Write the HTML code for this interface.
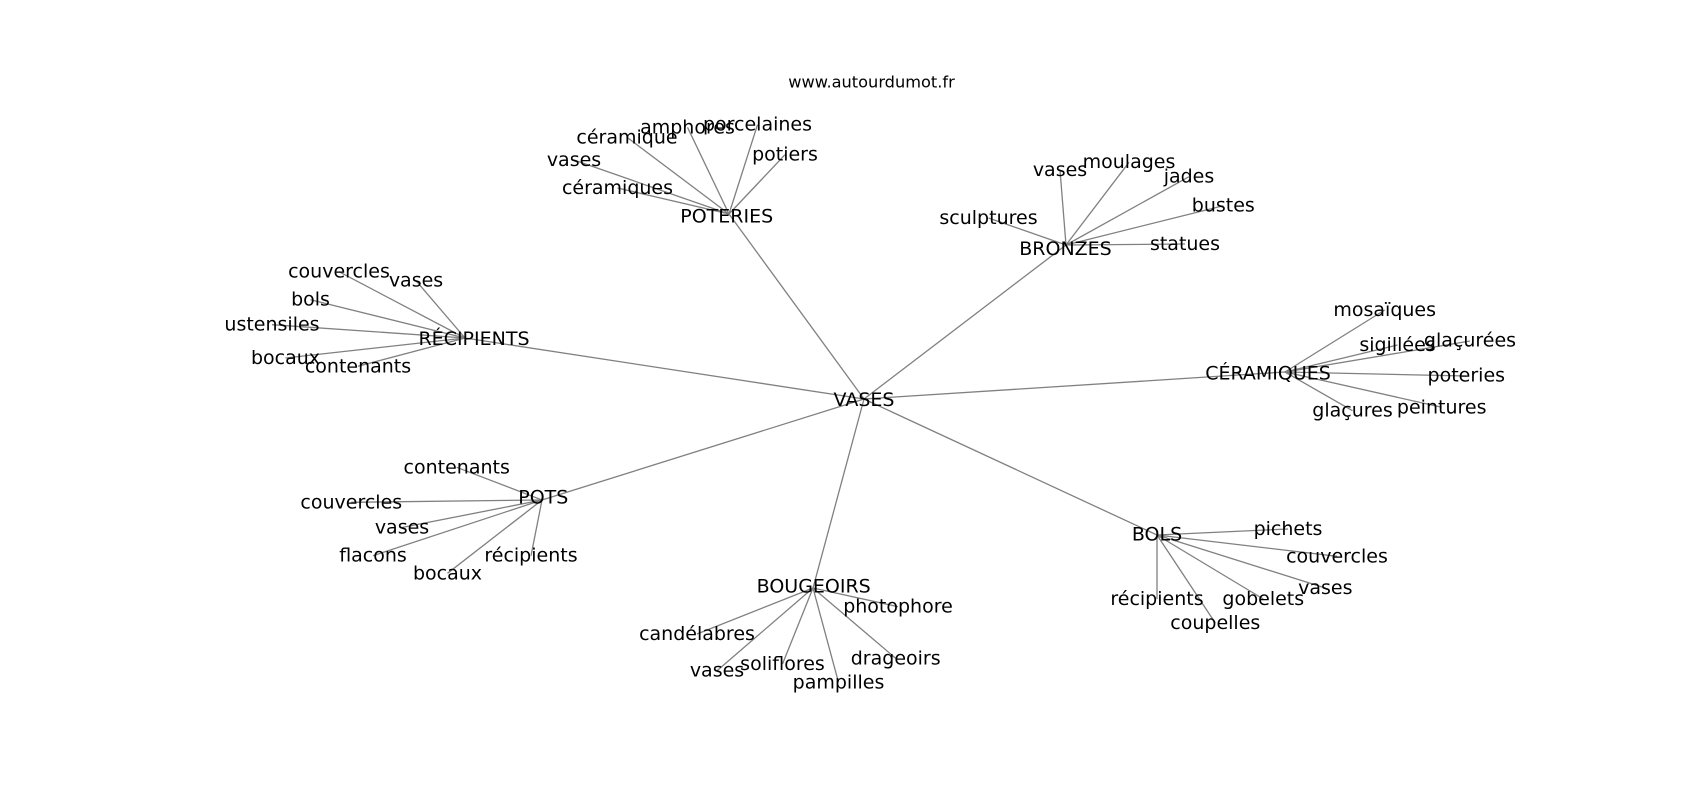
<!DOCTYPE html>
<html>
<head>
<meta charset="utf-8">
<style>
  html,body{margin:0;padding:0;background:#fff;}
  svg{display:block;}
  text{font-family:"DejaVu Sans","Liberation Sans",sans-serif;fill:#000;}
  .n{font-size:19px;text-anchor:middle;}
  .t{font-size:16.2px;text-anchor:middle;}
  line{stroke:#808080;stroke-width:1.3;}
</style>
</head>
<body>
<svg width="1700" height="800" viewBox="0 0 1700 800" xmlns="http://www.w3.org/2000/svg">
<rect width="1700" height="800" fill="#fff"/>
<g>
<!-- VASES to hubs -->
<line x1="864" y1="399" x2="729" y2="214"/>
<line x1="864" y1="399" x2="1066" y2="245"/>
<line x1="864" y1="399" x2="465" y2="338"/>
<line x1="864" y1="399" x2="1285" y2="372"/>
<line x1="864" y1="399" x2="542" y2="500"/>
<line x1="864" y1="399" x2="1157" y2="535"/>
<line x1="864" y1="399" x2="813" y2="588"/>
<!-- POTERIES -->
<line x1="729" y1="214" x2="627" y2="137.3"/>
<line x1="729" y1="214" x2="687.5" y2="127.3"/>
<line x1="729" y1="214" x2="757.5" y2="124.7"/>
<line x1="729" y1="214" x2="574" y2="160"/>
<line x1="729" y1="214" x2="785" y2="154.7"/>
<line x1="729" y1="214" x2="617.5" y2="188"/>
<!-- BRONZES -->
<line x1="1066" y1="245" x2="1060" y2="170"/>
<line x1="1066" y1="245" x2="1129" y2="162.3"/>
<line x1="1066" y1="245" x2="1189" y2="176.7"/>
<line x1="1066" y1="245" x2="1223.3" y2="205.7"/>
<line x1="1066" y1="245" x2="988.5" y2="218"/>
<line x1="1066" y1="245" x2="1185" y2="244"/>
<!-- RECIPIENTS -->
<line x1="465" y1="338" x2="339" y2="271.7"/>
<line x1="465" y1="338" x2="416" y2="280.7"/>
<line x1="465" y1="338" x2="310.5" y2="299.7"/>
<line x1="465" y1="338" x2="272" y2="324.7"/>
<line x1="465" y1="338" x2="285.5" y2="358"/>
<line x1="465" y1="338" x2="358" y2="366.3"/>
<!-- CERAMIQUES -->
<line x1="1285" y1="372" x2="1384.7" y2="310"/>
<line x1="1285" y1="372" x2="1397.5" y2="345"/>
<line x1="1285" y1="372" x2="1470" y2="341"/>
<line x1="1285" y1="372" x2="1466.3" y2="376"/>
<line x1="1285" y1="372" x2="1441.7" y2="407.3"/>
<line x1="1285" y1="372" x2="1352.5" y2="410.7"/>
<!-- POTS -->
<line x1="542" y1="500" x2="456.7" y2="467.3"/>
<line x1="542" y1="500" x2="351.3" y2="502.3"/>
<line x1="542" y1="500" x2="402" y2="527.5"/>
<line x1="542" y1="500" x2="373" y2="555.7"/>
<line x1="542" y1="500" x2="447.5" y2="573.3"/>
<line x1="542" y1="500" x2="531" y2="555.7"/>
<!-- BOLS -->
<line x1="1157" y1="535" x2="1288" y2="529"/>
<line x1="1157" y1="535" x2="1337" y2="556.3"/>
<line x1="1157" y1="535" x2="1325.3" y2="588"/>
<line x1="1157" y1="535" x2="1263.3" y2="599"/>
<line x1="1157" y1="535" x2="1157" y2="599"/>
<line x1="1157" y1="535" x2="1215.3" y2="623"/>
<!-- BOUGEOIRS -->
<line x1="813" y1="588" x2="898" y2="606.7"/>
<line x1="813" y1="588" x2="697" y2="634"/>
<line x1="813" y1="588" x2="895.7" y2="658.3"/>
<line x1="813" y1="588" x2="782.5" y2="664"/>
<line x1="813" y1="588" x2="717" y2="670.7"/>
<line x1="813" y1="588" x2="838.5" y2="682.3"/>
</g>

<text class="t" x="871.5" y="87.3">www.autourdumot.fr</text>

<!-- hubs -->
<text class="n" x="864" y="406">VASES</text>
<text class="n" x="726.7" y="222.3">POTERIES</text>
<text class="n" x="1065.5" y="255">BRONZES</text>
<text class="n" x="474" y="345">RÉCIPIENTS</text>
<text class="n" x="1268" y="379.5">CÉRAMIQUES</text>
<text class="n" x="543.3" y="503.5">POTS</text>
<text class="n" x="1157" y="540.5">BOLS</text>
<text class="n" x="813.7" y="592.3">BOUGEOIRS</text>

<!-- POTERIES leaves -->
<text class="n" x="627" y="143.3">céramique</text>
<text class="n" x="687.5" y="133.3">amphores</text>
<text class="n" x="757.5" y="130.7">porcelaines</text>
<text class="n" x="574" y="166">vases</text>
<text class="n" x="785" y="160.7">potiers</text>
<text class="n" x="617.5" y="194">céramiques</text>

<!-- BRONZES leaves -->
<text class="n" x="1060" y="176">vases</text>
<text class="n" x="1129" y="168">moulages</text>
<text class="n" x="1189" y="182.7">jades</text>
<text class="n" x="1223.3" y="211.7">bustes</text>
<text class="n" x="988.5" y="224">sculptures</text>
<text class="n" x="1185" y="250">statues</text>

<!-- RECIPIENTS leaves -->
<text class="n" x="339" y="277.7">couvercles</text>
<text class="n" x="416" y="286.7">vases</text>
<text class="n" x="310.5" y="305.7">bols</text>
<text class="n" x="272" y="330.7">ustensiles</text>
<text class="n" x="285.5" y="364">bocaux</text>
<text class="n" x="358" y="372.3">contenants</text>

<!-- CERAMIQUES leaves -->
<text class="n" x="1384.7" y="316">mosaïques</text>
<text class="n" x="1397.5" y="351">sigillées</text>
<text class="n" x="1470" y="346.7">glaçurées</text>
<text class="n" x="1466.3" y="381.7">poteries</text>
<text class="n" x="1441.7" y="413.3">peintures</text>
<text class="n" x="1352.5" y="416.7">glaçures</text>

<!-- POTS leaves -->
<text class="n" x="456.7" y="473.3">contenants</text>
<text class="n" x="351.3" y="508.3">couvercles</text>
<text class="n" x="402" y="533.5">vases</text>
<text class="n" x="373" y="561.7">flacons</text>
<text class="n" x="447.5" y="579.3">bocaux</text>
<text class="n" x="531" y="561.7">récipients</text>

<!-- BOLS leaves -->
<text class="n" x="1288" y="535">pichets</text>
<text class="n" x="1337" y="562.3">couvercles</text>
<text class="n" x="1325.3" y="594">vases</text>
<text class="n" x="1263.3" y="605">gobelets</text>
<text class="n" x="1157" y="605">récipients</text>
<text class="n" x="1215.3" y="629">coupelles</text>

<!-- BOUGEOIRS leaves -->
<text class="n" x="898" y="612.7">photophore</text>
<text class="n" x="697" y="640">candélabres</text>
<text class="n" x="895.7" y="664.3">drageoirs</text>
<text class="n" x="782.5" y="670">soliflores</text>
<text class="n" x="717" y="676.7">vases</text>
<text class="n" x="838.5" y="688.3">pampilles</text>
</svg>
</body>
</html>
